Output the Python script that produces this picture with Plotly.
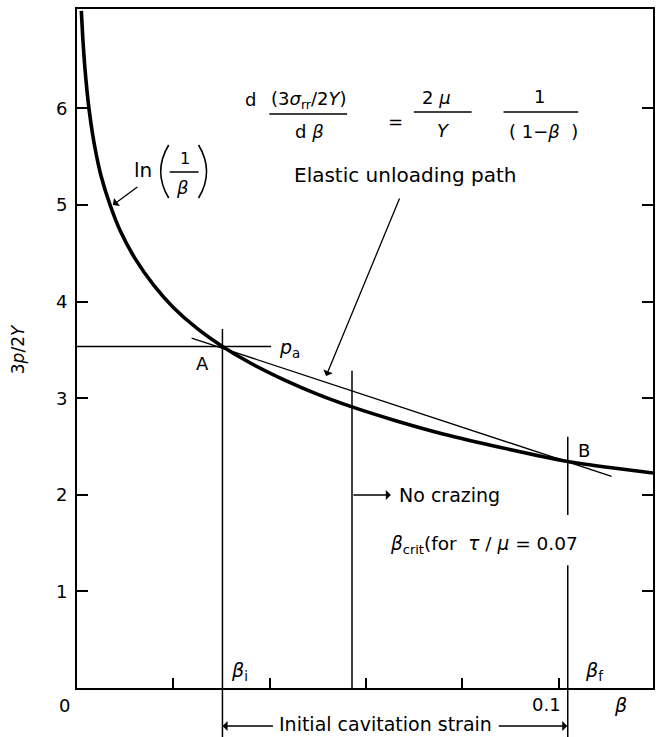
import plotly.graph_objects as go

# Loading curve 3p/2Y versus beta
beta_curve = [0.0009, 0.0012, 0.0016, 0.0021, 0.0028, 0.0037, 0.0050, 0.0068,
              0.0090, 0.012, 0.016, 0.020, 0.025, 0.0302, 0.036, 0.043, 0.050,
              0.0571, 0.066, 0.076, 0.088, 0.1019, 0.111, 0.1196]
p_curve = [7.01, 6.73, 6.44, 6.17, 5.88, 5.60, 5.30, 5.01,
           4.73, 4.45, 4.165, 3.94, 3.72, 3.536, 3.364, 3.19, 3.04,
           2.91, 2.77, 2.63, 2.49, 2.345, 2.28, 2.226]

# Point A (cavitation) and point B (end of unloading)
beta_A, p_A = 0.0302, 3.536
beta_B, p_B = 0.1019, 2.345

# Elastic unloading path (straight line through A and B)
beta_unload = [0.0238, 0.111]
p_unload = [3.623, 2.19]

# Horizontal p_a line end
beta_pa_end = 0.0403

# Vertical marker lines: [beta, top, bottom]
beta_i_line = [beta_A, 3.716, 0.0]
beta_nc_line = [0.0571, 3.285, 0.0]
beta_f_upper = [beta_B, 2.60, 1.79]
beta_f_lower = [beta_B, 1.27, 0.0]

x_ticks = [0.02, 0.04, 0.06, 0.08, 0.10]
y_ticks = [1, 2, 3, 4, 5, 6]
y_ticktext = ["1", "2", "3", "4", "5", "6"]

XMAX, YMAX = 0.1196, 7.029
FONT = "DejaVu Sans"

# plot-area pixel geometry used for placing labels
L, R, T, B = 77, 655, 9, 688


def xp(px):
    return (px - L) / (R - L)


def yp(py):
    return (B - py) / (B - T)


fig = go.Figure()

line = dict(color="black", width=1.5)
fig.add_trace(go.Scatter(x=beta_curve, y=p_curve, mode="lines",
                         line=dict(color="black", width=3.6, shape="spline", smoothing=0.6)))
fig.add_trace(go.Scatter(x=beta_unload, y=p_unload, mode="lines",
                         line=dict(color="black", width=1.3)))
fig.add_trace(go.Scatter(x=[0, beta_pa_end], y=[p_A, p_A], mode="lines", line=line))
for seg in (beta_i_line, beta_nc_line, beta_f_upper, beta_f_lower):
    fig.add_trace(go.Scatter(x=[seg[0], seg[0]], y=[seg[1], seg[2]], mode="lines", line=line))

shapes = []
# extensions of beta_i and beta_f lines below the axis
for bx in (beta_A, beta_B):
    shapes.append(dict(type="line", xref="x", yref="paper", x0=bx, x1=bx,
                       y0=0, y1=yp(737), line=dict(color="black", width=1.5)))


def bar(x0, x1, y):
    shapes.append(dict(type="line", xref="paper", yref="paper",
                       x0=xp(x0), x1=xp(x1), y0=yp(y), y1=yp(y),
                       line=dict(color="black", width=1.5)))


def paren(xe, xm, y0, y1):
    ym = (y0 + y1) / 2
    path = "M {:.5f},{:.5f} Q {:.5f},{:.5f} {:.5f},{:.5f}".format(
        xp(xe), yp(y0), xp(2 * xm - xe), yp(ym), xp(xe), yp(y1))
    shapes.append(dict(type="path", xref="paper", yref="paper", path=path,
                       line=dict(color="black", width=1.6)))


# formula fraction bars
bar(270, 348, 114)
bar(415, 473, 112)
bar(505, 580, 112)
# ln(1/beta) fraction and parentheses
bar(170, 199, 172)
paren(169, 161, 145, 198)
paren(199, 207, 145, 198)

annotations = []


def note(text, x, y, size=18, **kw):
    annotations.append(dict(text=text, xref="paper", yref="paper", x=xp(x), y=yp(y),
                            showarrow=False, font=dict(family=FONT, size=size, color="black"),
                            xanchor=kw.pop("xanchor", "center"), yanchor="middle", **kw))


def arrow(tx, ty, sx, sy, head=1):
    annotations.append(dict(text="", xref="paper", yref="paper", x=xp(tx), y=yp(ty),
                            ax=sx - tx, ay=sy - ty, showarrow=True, arrowhead=head,
                            arrowsize=1.3, arrowwidth=1.3, arrowcolor="black"))


# formula
note("d", 251, 100, 18)
note("(3<i>σ</i><sub>rr</sub>/2<i>Y</i>)", 310, 100, 18)
note("d <i>β</i>", 310, 131, 18)
note("=", 397, 122, 18)
note("2 <i>μ</i>", 438, 98, 18)
note("<i>Y</i>", 445, 130, 18)
note("1", 541, 97, 18)
note("( 1−<i>β</i>  )", 545, 131, 18)

note("Elastic unloading path", 406, 175, 20)
arrow(327, 376, 401, 197)

note("ln", 143, 170, 20)
note("1", 185, 158, 16)
note("<i>β</i>", 183, 188, 18)
arrow(113, 205, 139, 186)

note("A", 203, 364, 18)
note("<i>p</i><sub>a</sub>", 290, 348, 19)
note("B", 586, 450, 18)

arrow(392, 495, 353, 495)
note("No crazing", 451, 495, 19)
note("<i>β</i><sub>crit</sub>(for  <i>τ</i> / <i>μ</i> = 0.07", 485, 545, 18.5)

note("<i>β</i><sub>i</sub>", 240, 671, 19)
note("<i>β</i><sub>f</sub>", 596, 671, 19)
note("0", 64, 706, 18)
note("0.1", 548, 705, 18)
note("<i>β</i>", 622, 705, 19)

note("Initial cavitation strain", 387, 724, 19)
arrow(223, 726, 275, 726)
arrow(569, 726, 499, 726)

annotations.append(dict(text="3<i>p</i>/2<i>Y</i>", xref="paper", yref="paper",
                        x=xp(18), y=yp(349), showarrow=False, textangle=-90,
                        font=dict(family=FONT, size=17, color="black"),
                        xanchor="center", yanchor="middle"))

fig.update_layout(
    width=656, height=737,
    margin=dict(l=L, r=656 - R, t=T, b=737 - B, pad=0),
    paper_bgcolor="white", plot_bgcolor="white",
    showlegend=False,
    shapes=shapes, annotations=annotations,
    font=dict(family=FONT, size=18, color="black"),
    xaxis=dict(range=[0, XMAX], showline=True, linewidth=2, linecolor="black", mirror=True,
               ticks="inside", ticklen=10, tickwidth=1.5, tickcolor="black",
               tickvals=x_ticks, showticklabels=False, showgrid=False, zeroline=False),
    yaxis=dict(range=[0, YMAX], showline=True, linewidth=2, linecolor="black", mirror="ticks",
               ticks="inside", ticklen=11, tickwidth=1.5, tickcolor="black",
               tickvals=y_ticks, ticktext=y_ticktext, ticklabelstandoff=4,
               tickfont=dict(family=FONT, size=18, color="black"),
               showgrid=False, zeroline=False),
)

fig.write_html("out.html")
